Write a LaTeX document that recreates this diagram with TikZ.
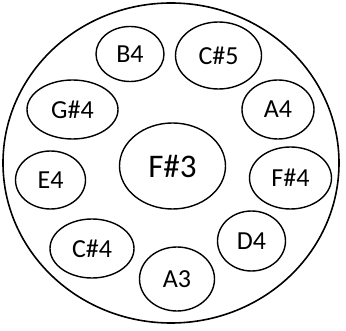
\documentclass[tikz,border=0pt]{standalone}
\usepackage{fontspec}
\setmainfont{Carlito}
\usetikzlibrary{shapes.geometric}

\tikzset{
  note/.style={draw,ellipse,line width=1.4pt,inner sep=0pt,font=\fontsize{26}{28}\selectfont},
}

\begin{document}
\begin{tikzpicture}[x=1pt,y=-1pt]
  \useasboundingbox (0,0) rectangle (346,331);
  \draw[line width=1.6pt] (171,163) ellipse [x radius=168,y radius=160];
  \node[note,minimum width=106,minimum height=86,font=\fontsize{33}{36}\selectfont] (fs3) at (172.5,166) {F\#3};
  \node[note,minimum width=68,minimum height=55] (b4) at (130,54) {B4};
  \node[note,minimum width=86,minimum height=67] (cs5) at (218.5,55.5) {C\#5};
  \node[note,minimum width=91,minimum height=59] (gs4) at (72.5,109.5) {G\#4};
  \node[note,minimum width=72,minimum height=59] (a4) at (278,109.5) {A4};
  \node[note,minimum width=70,minimum height=58] (e4) at (50.5,180) {E4};
  \node[note,minimum width=82,minimum height=62] (fs4) at (290.5,178) {F\#4};
  \node[note,minimum width=84,minimum height=59] (cs4) at (92,248.5) {C\#4};
  \node[note,minimum width=68,minimum height=60] (d4) at (251.5,241) {D4};
  \node[note,minimum width=75,minimum height=64] (a3) at (177,279) {A3};
\end{tikzpicture}
\end{document}
